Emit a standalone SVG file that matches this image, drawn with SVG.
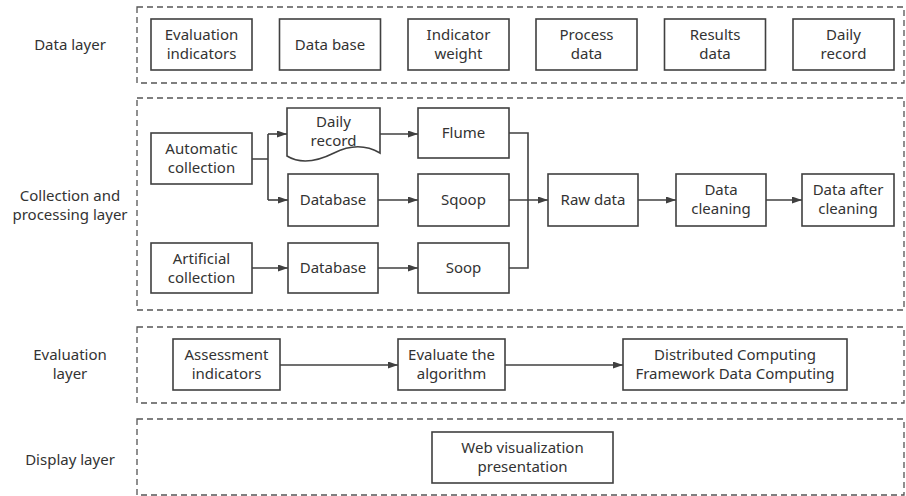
<svg xmlns="http://www.w3.org/2000/svg" width="906" height="496" viewBox="0 0 906 496">
<defs>
<style>
.layer{fill:none;stroke:#555;stroke-width:1.3;stroke-dasharray:6 4}
.box{fill:#fff;stroke:#404040;stroke-width:1.6}
.t{font-family:"Noto Sans","Open Sans","DejaVu Sans",sans-serif;font-size:15px;fill:#333;text-anchor:middle}
.c{fill:none;stroke:#404040;stroke-width:1.6}
.a{marker-end:url(#arr)}
</style>
<marker id="arr" markerWidth="11" markerHeight="8" refX="10" refY="3.5" orient="auto" markerUnits="userSpaceOnUse">
<path d="M0,0 L10,3.5 L0,7 Z" fill="#404040"/>
</marker>
</defs>
<rect width="906" height="496" fill="#fff"/>

<g id="layers">
<rect class="layer" x="137" y="7" width="767" height="76"/>
<rect class="layer" x="137" y="98" width="767" height="212"/>
<rect class="layer" x="137" y="327" width="767" height="76"/>
<rect class="layer" x="137" y="419" width="767" height="76"/>
</g>

<g id="layer-labels">
<text class="t" x="70" y="50">Data layer</text>
<text class="t" x="70" y="201">Collection and</text>
<text class="t" x="70" y="220">processing layer</text>
<text class="t" x="70" y="360">Evaluation</text>
<text class="t" x="70" y="379">layer</text>
<text class="t" x="70" y="465">Display layer</text>
</g>

<g id="connectors">
<path class="c" d="M252,159 H268 M268,134 V200"/>
<path class="c a" d="M268,134 H287"/>
<path class="c a" d="M268,200 H288"/>
<path class="c a" d="M380,134 H418"/>
<path class="c a" d="M378,200 H418"/>
<path class="c a" d="M252,268 H288"/>
<path class="c a" d="M378,268 H418"/>
<path class="c" d="M509,133 H528 V268 H509"/>
<path class="c a" d="M509,200 H548"/>
<path class="c a" d="M638,200 H676"/>
<path class="c a" d="M766,200 H802"/>
<path class="c a" d="M280,365 H398"/>
<path class="c a" d="M505,365 H623"/>
</g>

<g id="n-eval-indicators"><rect class="box" x="151" y="19" width="101" height="51"/><text class="t" x="201.5" y="40">Evaluation</text><text class="t" x="201.5" y="59">indicators</text></g>
<g id="n-database-top"><rect class="box" x="279.5" y="19" width="101" height="51"/><text class="t" x="330" y="50">Data base</text></g>
<g id="n-indicator-weight"><rect class="box" x="408" y="19" width="101" height="51"/><text class="t" x="458.5" y="40">Indicator</text><text class="t" x="458.5" y="59">weight</text></g>
<g id="n-process-data"><rect class="box" x="536" y="19" width="101" height="51"/><text class="t" x="586.5" y="40">Process</text><text class="t" x="586.5" y="59">data</text></g>
<g id="n-results-data"><rect class="box" x="664.5" y="19" width="101" height="51"/><text class="t" x="715" y="40">Results</text><text class="t" x="715" y="59">data</text></g>
<g id="n-daily-record-top"><rect class="box" x="793" y="19" width="101" height="51"/><text class="t" x="843.5" y="40">Daily</text><text class="t" x="843.5" y="59">record</text></g>

<g id="n-automatic"><rect class="box" x="151" y="133" width="101" height="51"/><text class="t" x="201.5" y="154">Automatic</text><text class="t" x="201.5" y="173">collection</text></g>
<g id="n-daily-record"><path class="box" d="M287,108 H380 V153 C368,146 352,144 334,153 C316,162 300,164 287,156 Z"/><text class="t" x="333.5" y="127">Daily</text><text class="t" x="333.5" y="146">record</text></g>
<g id="n-flume"><rect class="box" x="418" y="108" width="91" height="50"/><text class="t" x="463.5" y="138">Flume</text></g>
<g id="n-database-1"><rect class="box" x="288" y="174" width="90" height="52"/><text class="t" x="333" y="205">Database</text></g>
<g id="n-sqoop"><rect class="box" x="418" y="174" width="91" height="52"/><text class="t" x="463.5" y="205">Sqoop</text></g>
<g id="n-artificial"><rect class="box" x="151" y="243" width="101" height="50"/><text class="t" x="201.5" y="264">Artificial</text><text class="t" x="201.5" y="283">collection</text></g>
<g id="n-database-2"><rect class="box" x="288" y="243" width="90" height="50"/><text class="t" x="333" y="273">Database</text></g>
<g id="n-soop"><rect class="box" x="418" y="243" width="91" height="50"/><text class="t" x="463.5" y="273">Soop</text></g>
<g id="n-raw-data"><rect class="box" x="548" y="174" width="90" height="52"/><text class="t" x="593" y="205">Raw data</text></g>
<g id="n-data-cleaning"><rect class="box" x="676" y="174" width="90" height="52"/><text class="t" x="721" y="195">Data</text><text class="t" x="721" y="214">cleaning</text></g>
<g id="n-after-cleaning"><rect class="box" x="802" y="174" width="92" height="52"/><text class="t" x="848" y="195">Data after</text><text class="t" x="848" y="214">cleaning</text></g>

<g id="n-assessment"><rect class="box" x="173" y="339" width="107" height="51"/><text class="t" x="226.5" y="360">Assessment</text><text class="t" x="226.5" y="379">indicators</text></g>
<g id="n-evaluate"><rect class="box" x="398" y="339" width="107" height="51"/><text class="t" x="451.5" y="360">Evaluate the</text><text class="t" x="451.5" y="379">algorithm</text></g>
<g id="n-distributed"><rect class="box" x="623" y="339" width="224" height="51"/><text class="t" x="735" y="360">Distributed Computing</text><text class="t" x="735" y="379">Framework Data Computing</text></g>

<g id="n-web"><rect class="box" x="432" y="432" width="181" height="51"/><text class="t" x="522.5" y="453">Web visualization</text><text class="t" x="522.5" y="472">presentation</text></g>
</svg>
